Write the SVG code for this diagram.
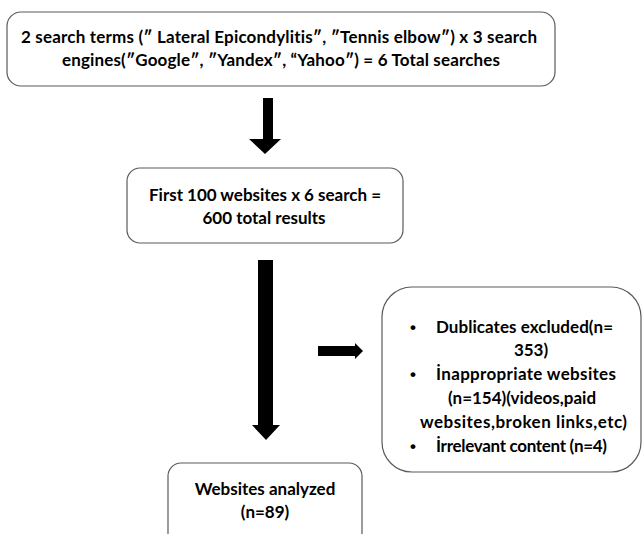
<svg xmlns="http://www.w3.org/2000/svg" width="643" height="534" viewBox="0 0 643 534">
<style>
.box{fill:#fff;stroke:#5a5a5a;stroke-width:1.2}
.t{font-family:Lato,"Open Sans","Liberation Sans",sans-serif;font-weight:bold;font-size:17px;fill:#000;font-variant-ligatures:none}
.m{text-anchor:middle}
.b{font-family:"Liberation Sans",sans-serif;font-weight:bold;font-size:17px;fill:#000}
.arr{fill:#000}
</style>
<rect width="643" height="534" fill="#fff"/>
<g id="connectors">
<polygon class="arr" points="263,98 273,98 273,139 281,139 265,154 249,139 263,139"/>
<polygon class="arr" points="258,260 273,260 273,425 280,425 266,440 252,425 258,425"/>
<polygon class="arr" points="318,346 355,346 355,343 363,351 355,359 355,356 318,356"/>
</g>
<g id="searches">
<rect class="box" x="7" y="12" width="548" height="74" rx="14"/>
<text class="t" x="21" y="43" textLength="516">2 search terms (″ Lateral Epicondylitis″, ″Tennis elbow″) x 3 search</text>
<text class="t" x="62" y="66" textLength="438">engines(″Google″, ″Yandex″, “Yahoo″) = 6 Total searches</text>
</g>
<g id="results">
<rect class="box" x="127" y="168" width="276" height="75" rx="13"/>
<text class="t" x="149" y="201" textLength="232">First 100 websites x 6 search =</text>
<text class="t m" x="264" y="224">600 total results</text>
</g>
<g id="excluded">
<rect class="box" x="382" y="287" width="259" height="185" rx="30"/>
<text class="b" x="410" y="333">•</text>
<text class="t" x="436" y="333" textLength="177">Dublicates excluded(n=</text>
<text class="t m" x="531" y="356">353)</text>
<text class="b" x="410" y="380">•</text>
<text class="t" x="436" y="380" textLength="180">İnappropriate websites</text>
<text class="t m" x="522" y="404">(n=154)(videos,paid</text>
<text class="t" x="420" y="428" textLength="207">websites,broken links,etc)</text>
<text class="b" x="410" y="452">•</text>
<text class="t" x="436" y="452" textLength="171">İrrelevant content (n=4)</text>
</g>
<g id="analyzed">
<rect class="box" x="168" y="463" width="194" height="90" rx="13"/>
<text class="t m" x="265" y="495">Websites analyzed</text>
<text class="t m" x="265" y="518">(n=89)</text>
</g>
</svg>
